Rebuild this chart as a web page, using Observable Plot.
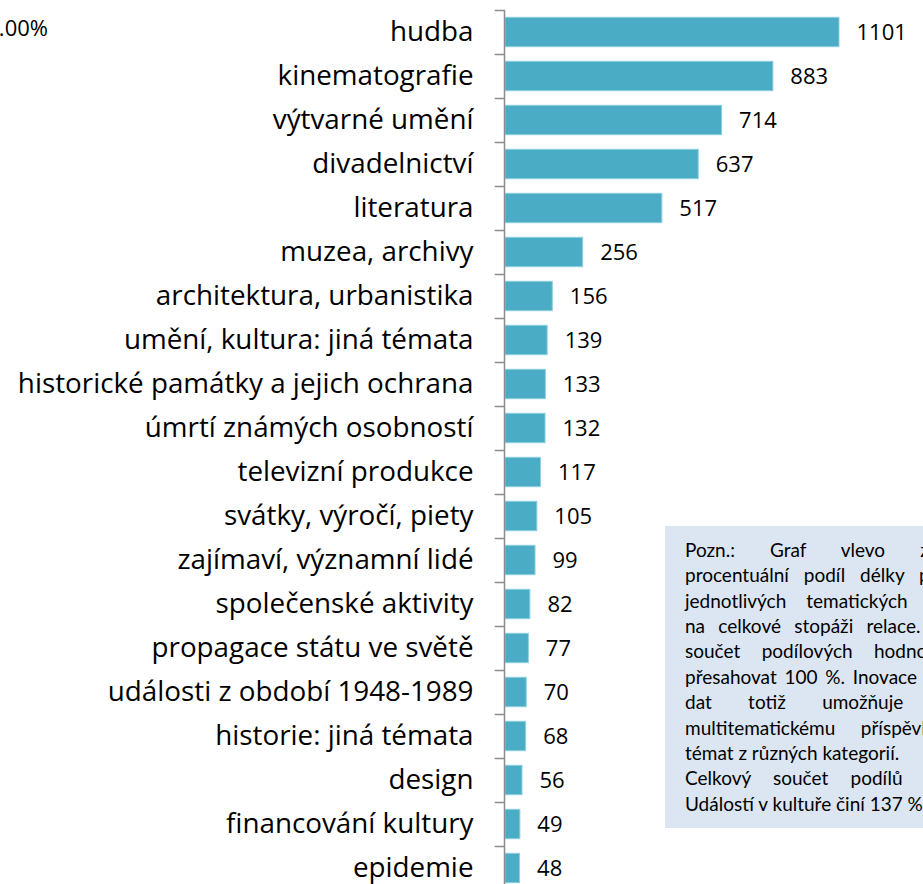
<!DOCTYPE html>
<html>
<head>
<meta charset="utf-8">
<script src="https://cdn.jsdelivr.net/npm/d3@7"></script>
<script src="https://cdn.jsdelivr.net/npm/@observablehq/plot@0.6"></script>
<style>
  html, body { margin: 0; padding: 0; background: #fff; }
  body { width: 923px; height: 884px; position: relative; overflow: hidden; font-family: "Open Sans", sans-serif; }
  #chart { position: absolute; left: 0; top: 0; }
  #pct { position: absolute; right: 875px; top: 12px; font-size: 22px; white-space: nowrap; color: #000; }
  #note { position: absolute; left: 665px; top: 526px; width: 315px; height: 279.4px; padding: 10.7px 20px 11.9px 20px; background: #DCE6F2; font-family: Lato, "Open Sans", sans-serif; font-size: 19px; line-height: 25.4px; color: #000; }
  #note div { white-space: nowrap; }
  #note .j { text-align: justify; text-align-last: justify; }
  #note .l { text-align: left; }
</style>
</head>
<body>
<div id="chart"></div>
<div id="pct">100.00%</div>
<div id="note"></div>
<script>
const categories = [
  "hudba", "kinematografie", "výtvarné umění", "divadelnictví", "literatura",
  "muzea, archivy", "architektura, urbanistika", "umění, kultura: jiná témata",
  "historické památky a jejich ochrana", "úmrtí známých osobností", "televizní produkce",
  "svátky, výročí, piety", "zajímaví, významní lidé", "společenské aktivity",
  "propagace státu ve světě", "události z období 1948-1989", "historie: jiná témata",
  "design", "financování kultury", "epidemie"
];
const values = [1101, 883, 714, 637, 517, 256, 156, 139, 133, 132, 117, 105, 99, 82, 77, 70, 68, 56, 49, 48];

const noteLines = [
  ["j", "Pozn.: Graf vlevo zobrazuje"],
  ["j", "procentuální podíl délky příspěvků"],
  ["j", "jednotlivých tematických kategorií"],
  ["j", "na celkové stopáži relace. Celkový"],
  ["j", "součet podílových hodnot může"],
  ["j", "přesahovat 100 %. Inovace kódování"],
  ["j", "dat totiž umožňuje přiřadit"],
  ["j", "multitematickému příspěvku více"],
  ["l", "témat z různých kategorií."],
  ["j", "Celkový součet podílů v relaci"],
  ["l", "Událostí v kultuře činí 137 %."]
];

const data = categories.map((c, i) => ({category: c, value: values[i]}));
const step = 44;

const chart = Plot.plot({
  width: 923,
  height: 884,
  marginLeft: 505,
  marginRight: 84,
  marginTop: 10,
  marginBottom: 0,
  style: {fontFamily: "'Open Sans', sans-serif", background: "transparent", color: "#000"},
  x: {domain: [0, 1101], axis: null},
  y: {domain: categories, range: [10, 10 + step * categories.length], padding: 0, axis: null},
  marks: [
    Plot.barX(data, {x: "value", y: "category", fill: "#4BACC6", stroke: "#8FCFE0", strokeWidth: 1, insetTop: 7.3, insetBottom: 7.3}),
    Plot.ruleY(categories, {y: d => d, x1: -34, x2: 0, dy: -step / 2, stroke: "#8C8C8C", strokeWidth: 1.5}),
    Plot.ruleX([0], {dx: -1, stroke: "#8C8C8C", strokeWidth: 1.5}),
    Plot.text(data, {x: "value", y: "category", text: d => String(d.value), dx: 17, textAnchor: "start", fontSize: 22, fill: "#000"}),
    Plot.text(data, {x: 0, y: "category", text: "category", dx: -32, textAnchor: "end", fontSize: 27.8, fill: "#000"})
  ]
});
document.getElementById("chart").appendChild(chart);

const note = document.getElementById("note");
for (const [cls, line] of noteLines) {
  const div = document.createElement("div");
  div.className = cls;
  div.textContent = line;
  note.appendChild(div);
}
</script>
</body>
</html>
